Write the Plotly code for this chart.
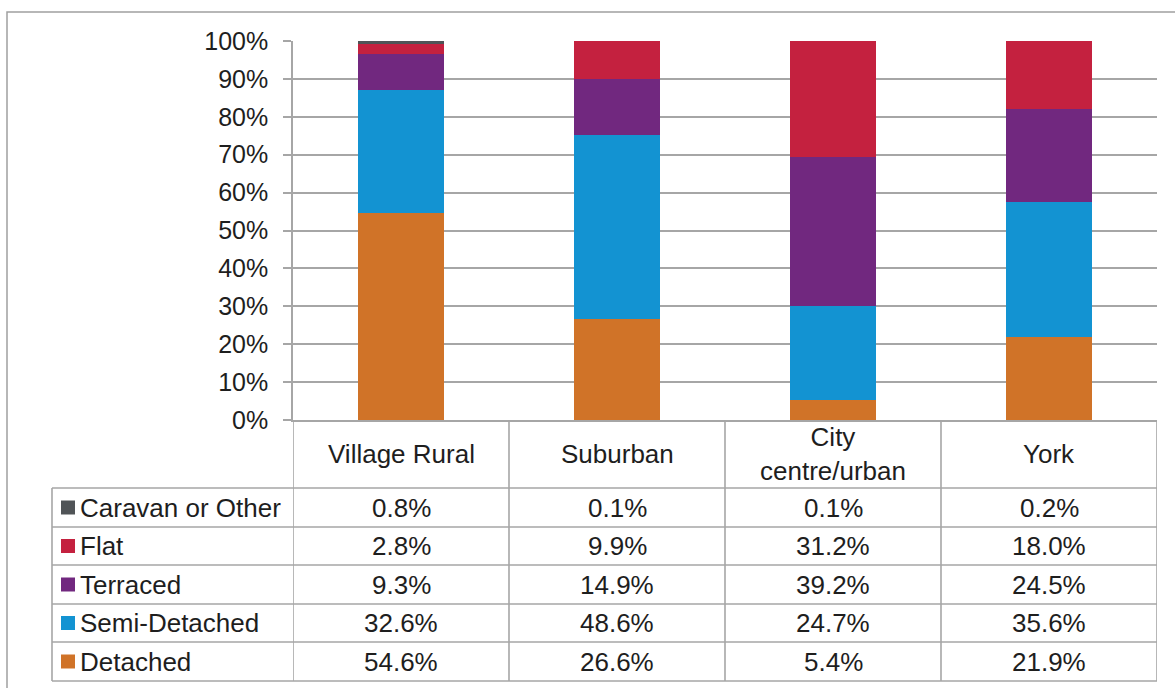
import plotly.graph_objects as go

# ---- data ----
categories = ["Village Rural", "Suburban", "City centre/urban", "York"]
header_labels = ["Village Rural", "Suburban", "City<br>centre/urban", "York"]
series_names = ["Detached", "Semi-Detached", "Terraced", "Flat", "Caravan or Other"]
detached = [54.6, 26.6, 5.4, 21.9]
semi_detached = [32.6, 48.6, 24.7, 35.6]
terraced = [9.3, 14.9, 39.2, 24.5]
flat = [2.8, 9.9, 31.2, 18.0]
caravan_other = [0.8, 0.1, 0.1, 0.2]
series_values = [detached, semi_detached, terraced, flat, caravan_other]
colors = ["#D07328", "#1393D2", "#71287F", "#C4213F", "#505457"]
y_ticks = [i / 10 for i in range(11)]

# ---- geometry (pixels) ----
W, H = 1175, 688
L, R, T, B = 293, 1157, 41, 420
FONT = "Liberation Sans, Arial, sans-serif"
TXT = "#1E1E1E"
GRID = "#A6A6A6"
FS = 26
FS_TICK = 25


def px(x):
    return (x - L) / (R - L)


def py(y):
    return (B - y) / (B - T)


fig = go.Figure()
for name, vals, col in zip(series_names, series_values, colors):
    fig.add_trace(go.Bar(
        x=categories, y=[v / 100 for v in vals], name=name,
        marker=dict(color=col, line=dict(width=0)), width=0.4,
        showlegend=False,
    ))

shapes = []
annotations = []

# outer chart border
shapes.append(dict(type="rect", xref="paper", yref="paper",
                   x0=px(7), x1=px(W + 20), y0=py(12), y1=py(H + 20),
                   line=dict(color="#A0A0A0", width=1.5)))

# table lines
row_edges = [488, 527, 565, 604, 642, 681]
for ye in row_edges:
    shapes.append(dict(type="line", xref="paper", yref="paper",
                       x0=px(52), x1=px(R), y0=py(ye), y1=py(ye),
                       line=dict(color=GRID, width=1.6)))
# left border of legend column
shapes.append(dict(type="line", xref="paper", yref="paper",
                   x0=px(52), x1=px(52), y0=py(488), y1=py(681),
                   line=dict(color=GRID, width=1.6)))
# column separators (category boundaries)
for i in range(len(categories) + 1):
    shapes.append(dict(type="line", xref="x", yref="paper",
                       x0=i - 0.5, x1=i - 0.5, y0=py(B), y1=py(681),
                       line=dict(color=GRID, width=1.6)))

# header labels
for i, lab in enumerate(header_labels):
    annotations.append(dict(xref="x", yref="paper", x=i, y=py(454),
                            text=lab, showarrow=False,
                            font=dict(family=FONT, size=FS, color=TXT),
                            xanchor="center", yanchor="middle"))

# table body: top row = last series
row_order = list(range(len(series_names)))[::-1]
for r, si in enumerate(row_order):
    yc = (row_edges[r] + row_edges[r + 1]) / 2
    # swatch
    shapes.append(dict(type="rect", xref="paper", yref="paper",
                       x0=px(61), x1=px(75), y0=py(yc - 7), y1=py(yc + 7),
                       fillcolor=colors[si], line=dict(width=0)))
    annotations.append(dict(xref="paper", yref="paper", x=px(78), y=py(yc),
                            text=series_names[si], showarrow=False,
                            font=dict(family=FONT, size=FS, color=TXT),
                            xanchor="left", yanchor="middle"))
    for ci, v in enumerate(series_values[si]):
        annotations.append(dict(xref="x", yref="paper", x=ci, y=py(yc),
                                text=f"{v:.1f}%", showarrow=False,
                                font=dict(family=FONT, size=FS, color=TXT),
                                xanchor="center", yanchor="middle"))

fig.update_layout(
    width=W, height=H, autosize=False,
    margin=dict(l=L, r=W - R, t=T, b=H - B, pad=0),
    paper_bgcolor="white", plot_bgcolor="white",
    barmode="stack", bargap=0.6,
    shapes=shapes, annotations=annotations,
    font=dict(family=FONT, size=FS, color=TXT),
    xaxis=dict(range=[-0.5, 3.5], showticklabels=False, ticks="",
               showgrid=False, showline=True, linecolor=GRID, linewidth=1.6,
               zeroline=False, fixedrange=True),
    yaxis=dict(range=[0, 1], tickvals=y_ticks, tickformat=".0%",
               ticks="outside", ticklen=8, tickcolor=GRID, tickwidth=1.6,
               showline=True, linecolor=GRID, linewidth=1.6,
               showgrid=True, gridcolor=GRID, gridwidth=1.6,
               zeroline=False, ticklabelstandoff=10,
               tickfont=dict(family=FONT, size=FS_TICK, color=TXT), fixedrange=True),
)

fig.write_html(
    "out.html",
    config={"displayModeBar": False},
    post_script="document.body.style.margin='0';document.body.style.overflow='hidden';",
)
